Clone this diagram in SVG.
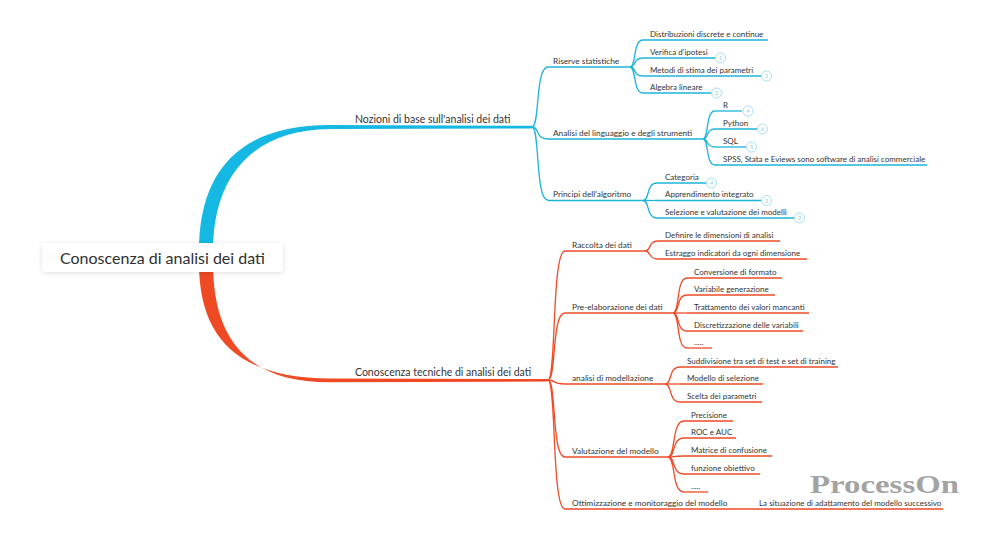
<svg xmlns="http://www.w3.org/2000/svg" width="1000" height="543" viewBox="0 0 1000 543">
<style>
text{font-family:Lato,"Open Sans","Noto Sans",sans-serif;fill:#333}
.root{font-size:16px;fill:#2f2f2f}
.l1{font-size:10.5px}
.l2{font-size:8.3px}
.l3{font-size:8px}
.cb{fill:none;stroke:#1db4da;stroke-width:1.3}
.cr{fill:none;stroke:#ee4b27;stroke-width:1.3}
.ub{stroke:#1db4da;stroke-width:1.3}
.ur{stroke:#ee4b27;stroke-width:1.3}
.badge circle{fill:#fff;stroke:#8fd6ec;stroke-width:0.8}
.badge text{font-size:5.5px;fill:#86cfe6;text-anchor:middle}
.wm{font-family:"Liberation Serif",serif;font-weight:bold;font-size:25px;fill:#a3a3a3}
</style>
<defs>
<filter id="sh" x="-10%" y="-40%" width="120%" height="180%">
<feDropShadow dx="0" dy="1" stdDeviation="2.5" flood-color="#000" flood-opacity="0.12"/>
</filter>
</defs>
<rect width="1000" height="543" fill="#fff"/>
<g id="connectors">
<path d="M199,252 C199,170 240,125 330,125 L532,125.8 L532,128.4 L330,129 C252,130 213,176 213,252 Z" fill="#14b8e2"/>
<path d="M199,263 C199,340 240,378 330,378.6 L548,379 L548,381.6 L330,382.2 C248,382.4 213,340 213,263 Z" fill="#f04a24"/>
<path class="cb" d="M532,127 C540,127 535,67 548,67"/>
<path class="cb" d="M532,127 C540,127 535,139 548,139"/>
<path class="cb" d="M532,127 C540,127 535,200 548,200"/>
<path class="cb" d="M630,67 C636.5,67 632.6,40 643,40"/>
<path class="cb" d="M630,67 C636.5,67 632.6,58 643,58"/>
<path class="cb" d="M630,67 C636.5,67 632.6,76 643,76"/>
<path class="cb" d="M630,67 C636.5,67 632.6,93 643,93"/>
<path class="cb" d="M703,139 C709,139 705.4,111 715,111"/>
<path class="cb" d="M703,139 C709,139 705.4,129 715,129"/>
<path class="cb" d="M703,139 C709,139 705.4,147 715,147"/>
<path class="cb" d="M703,139 C709,139 705.4,165 715,165"/>
<path class="cb" d="M643,200.5 C650,200.5 645.8,183 657,183"/>
<path class="cb" d="M643,200.5 L657,200.5"/>
<path class="cb" d="M643,200.5 C650,200.5 645.8,218 657,218"/>
<path class="cr" d="M548,380 C556.5,380 551.4,251 565,251"/>
<path class="cr" d="M548,380 C556.5,380 551.4,313 565,313"/>
<path class="cr" d="M548,380 C556.5,380 551.4,384 565,384"/>
<path class="cr" d="M548,380 C556.5,380 551.4,457 565,457"/>
<path class="cr" d="M548,380 C556.5,380 551.4,509 565,509"/>
<path class="cr" d="M645,251 C651.5,251 647.6,241 658,241"/>
<path class="cr" d="M645,251 C651.5,251 647.6,259 658,259"/>
<path class="cr" d="M673,313 C680,313 675.8,278 687,278"/>
<path class="cr" d="M673,313 C680,313 675.8,295 687,295"/>
<path class="cr" d="M673,313 L687,313"/>
<path class="cr" d="M673,313 C680,313 675.8,331 687,331"/>
<path class="cr" d="M673,313 C680,313 675.8,348 687,348"/>
<path class="cr" d="M665,384 C672.5,384 668,367 680,367"/>
<path class="cr" d="M665,384 L680,384"/>
<path class="cr" d="M665,384 C672.5,384 668,402 680,402"/>
<path class="cr" d="M668,457 C676,457 671.2,421 684,421"/>
<path class="cr" d="M668,457 C676,457 671.2,438 684,438"/>
<path class="cr" d="M668,457 C676,457 671.2,456 684,456"/>
<path class="cr" d="M668,457 C676,457 671.2,474 684,474"/>
<path class="cr" d="M668,457 C676,457 671.2,492 684,492"/>
</g>
<g id="root">
<rect x="42" y="243" width="241" height="29" rx="4" fill="#fff" filter="url(#sh)"/>
<text class="root" x="60" y="263.5">Conoscenza di analisi dei dati</text>
</g>
<g id="n-nozioni"><text class="l1" x="355" y="123">Nozioni di base sull'analisi dei dati</text></g>
<g id="n-conoscenza"><text class="l1" x="355" y="376">Conoscenza tecniche di analisi dei dati</text></g>

<g id="n-riserve"><line class="ub" x1="548" y1="67" x2="630" y2="67"/><text class="l2" x="553" y="63.5">Riserve statistiche</text></g>
<g id="n-analisi"><line class="ub" x1="548" y1="139" x2="703" y2="139"/><text class="l2" x="553" y="135.5">Analisi del linguaggio e degli strumenti</text></g>
<g id="n-principi"><line class="ub" x1="548" y1="200.5" x2="643" y2="200.5"/><text class="l2" x="553" y="197">Principi dell'algoritmo</text></g>

<g id="n-distr"><line class="ub" x1="643" y1="40" x2="768" y2="40"/><text class="l3" x="650" y="36.5">Distribuzioni discrete e continue</text></g>
<g id="n-verifica"><line class="ub" x1="643" y1="58" x2="715" y2="58"/><text class="l3" x="650" y="54.5">Verifica d'ipotesi</text><g class="badge"><circle cx="720.5" cy="58" r="5"/><text x="720.5" y="60">1</text></g></g>
<g id="n-metodi"><line class="ub" x1="643" y1="76" x2="761" y2="76"/><text class="l3" x="650" y="72.5">Metodi di stima dei parametri</text><g class="badge"><circle cx="766.5" cy="76" r="5"/><text x="766.5" y="78">2</text></g></g>
<g id="n-algebra"><line class="ub" x1="643" y1="93" x2="711" y2="93"/><text class="l3" x="650" y="89.5">Algebra lineare</text><g class="badge"><circle cx="716.5" cy="93" r="5"/><text x="716.5" y="95">2</text></g></g>

<g id="n-r"><line class="ub" x1="715" y1="111" x2="742" y2="111"/><text class="l3" x="723" y="107.5">R</text><g class="badge"><circle cx="748" cy="111" r="5"/><text x="748" y="113">4</text></g></g>
<g id="n-python"><line class="ub" x1="715" y1="129" x2="757" y2="129"/><text class="l3" x="723" y="125.5">Python</text><g class="badge"><circle cx="762.5" cy="129" r="5"/><text x="762.5" y="131">6</text></g></g>
<g id="n-sql"><line class="ub" x1="715" y1="147" x2="746" y2="147"/><text class="l3" x="723" y="143.5">SQL</text><g class="badge"><circle cx="751.5" cy="147" r="5"/><text x="751.5" y="149">5</text></g></g>
<g id="n-spss"><line class="ub" x1="715" y1="165" x2="927" y2="165"/><text class="l3" x="723" y="161.5">SPSS, Stata e Eviews sono software di analisi commerciale</text></g>

<g id="n-categoria"><line class="ub" x1="657" y1="183" x2="706" y2="183"/><text class="l3" x="665" y="179.5">Categoria</text><g class="badge"><circle cx="711.5" cy="183" r="5"/><text x="711.5" y="185">4</text></g></g>
<g id="n-apprend"><line class="ub" x1="657" y1="200.5" x2="761" y2="200.5"/><text class="l3" x="665" y="197">Apprendimento integrato</text><g class="badge"><circle cx="766.5" cy="200.5" r="5"/><text x="766.5" y="202.5">3</text></g></g>
<g id="n-selezione"><line class="ub" x1="657" y1="218" x2="794" y2="218"/><text class="l3" x="665" y="214.5">Selezione e valutazione dei modelli</text><g class="badge"><circle cx="799.5" cy="218" r="5"/><text x="799.5" y="220">2</text></g></g>

<g id="n-raccolta"><line class="ur" x1="565" y1="251" x2="645" y2="251"/><text class="l2" x="572" y="247.5">Raccolta dei dati</text></g>
<g id="n-preelab"><line class="ur" x1="565" y1="313" x2="673" y2="313"/><text class="l2" x="572" y="309.5">Pre-elaborazione dei dati</text></g>
<g id="n-modell"><line class="ur" x1="565" y1="384" x2="665" y2="384"/><text class="l2" x="572" y="380.5">analisi di modellazione</text></g>
<g id="n-valut"><line class="ur" x1="565" y1="457" x2="668" y2="457"/><text class="l2" x="572" y="453.5">Valutazione del modello</text></g>
<g id="n-ottim"><line class="ur" x1="565" y1="509" x2="746" y2="509"/><text class="l2" x="572" y="505.5">Ottimizzazione e monitoraggio del modello</text></g>

<g id="n-definire"><line class="ur" x1="658" y1="241" x2="780" y2="241"/><text class="l3" x="665" y="237.5">Definire le dimensioni di analisi</text></g>
<g id="n-estraggo"><line class="ur" x1="658" y1="259" x2="807" y2="259"/><text class="l3" x="665" y="255.5">Estraggo indicatori da ogni dimensione</text></g>

<g id="n-conv"><line class="ur" x1="687" y1="278" x2="782" y2="278"/><text class="l3" x="694" y="274.5">Conversione di formato</text></g>
<g id="n-var"><line class="ur" x1="687" y1="295" x2="775" y2="295"/><text class="l3" x="694" y="291.5">Variabile generazione</text></g>
<g id="n-tratt"><line class="ur" x1="687" y1="313" x2="809" y2="313"/><text class="l3" x="694" y="309.5">Trattamento dei valori mancanti</text></g>
<g id="n-discr"><line class="ur" x1="687" y1="331" x2="803" y2="331"/><text class="l3" x="694" y="327.5">Discretizzazione delle variabili</text></g>
<g id="n-dots1"><line class="ur" x1="687" y1="348" x2="712" y2="348"/><text class="l3" x="694" y="344.5">.....</text></g>

<g id="n-sudd"><line class="ur" x1="680" y1="367" x2="838" y2="367"/><text class="l3" x="687" y="363.5">Suddivisione tra set di test e set di training</text></g>
<g id="n-modsel"><line class="ur" x1="680" y1="384" x2="763" y2="384"/><text class="l3" x="687" y="380.5">Modello di selezione</text></g>
<g id="n-scelta"><line class="ur" x1="680" y1="402" x2="762" y2="402"/><text class="l3" x="687" y="398.5">Scelta dei parametri</text></g>

<g id="n-prec"><line class="ur" x1="684" y1="421" x2="733" y2="421"/><text class="l3" x="691" y="417.5">Precisione</text></g>
<g id="n-roc"><line class="ur" x1="684" y1="438" x2="736" y2="438"/><text class="l3" x="691" y="434.5">ROC e AUC</text></g>
<g id="n-matrice"><line class="ur" x1="684" y1="456" x2="772" y2="456"/><text class="l3" x="691" y="452.5">Matrice di confusione</text></g>
<g id="n-funz"><line class="ur" x1="684" y1="474" x2="760" y2="474"/><text class="l3" x="691" y="470.5">funzione obiettivo</text></g>
<g id="n-dots2"><line class="ur" x1="684" y1="492" x2="708" y2="492"/><text class="l3" x="691" y="488.5">.....</text></g>

<g id="n-situaz"><line class="ur" x1="746" y1="509" x2="943" y2="509"/><text class="l3" x="759" y="505.5">La situazione di adattamento del modello successivo</text></g>

<text class="wm" x="810" y="493" textLength="149" lengthAdjust="spacingAndGlyphs">ProcessOn</text>
</svg>
